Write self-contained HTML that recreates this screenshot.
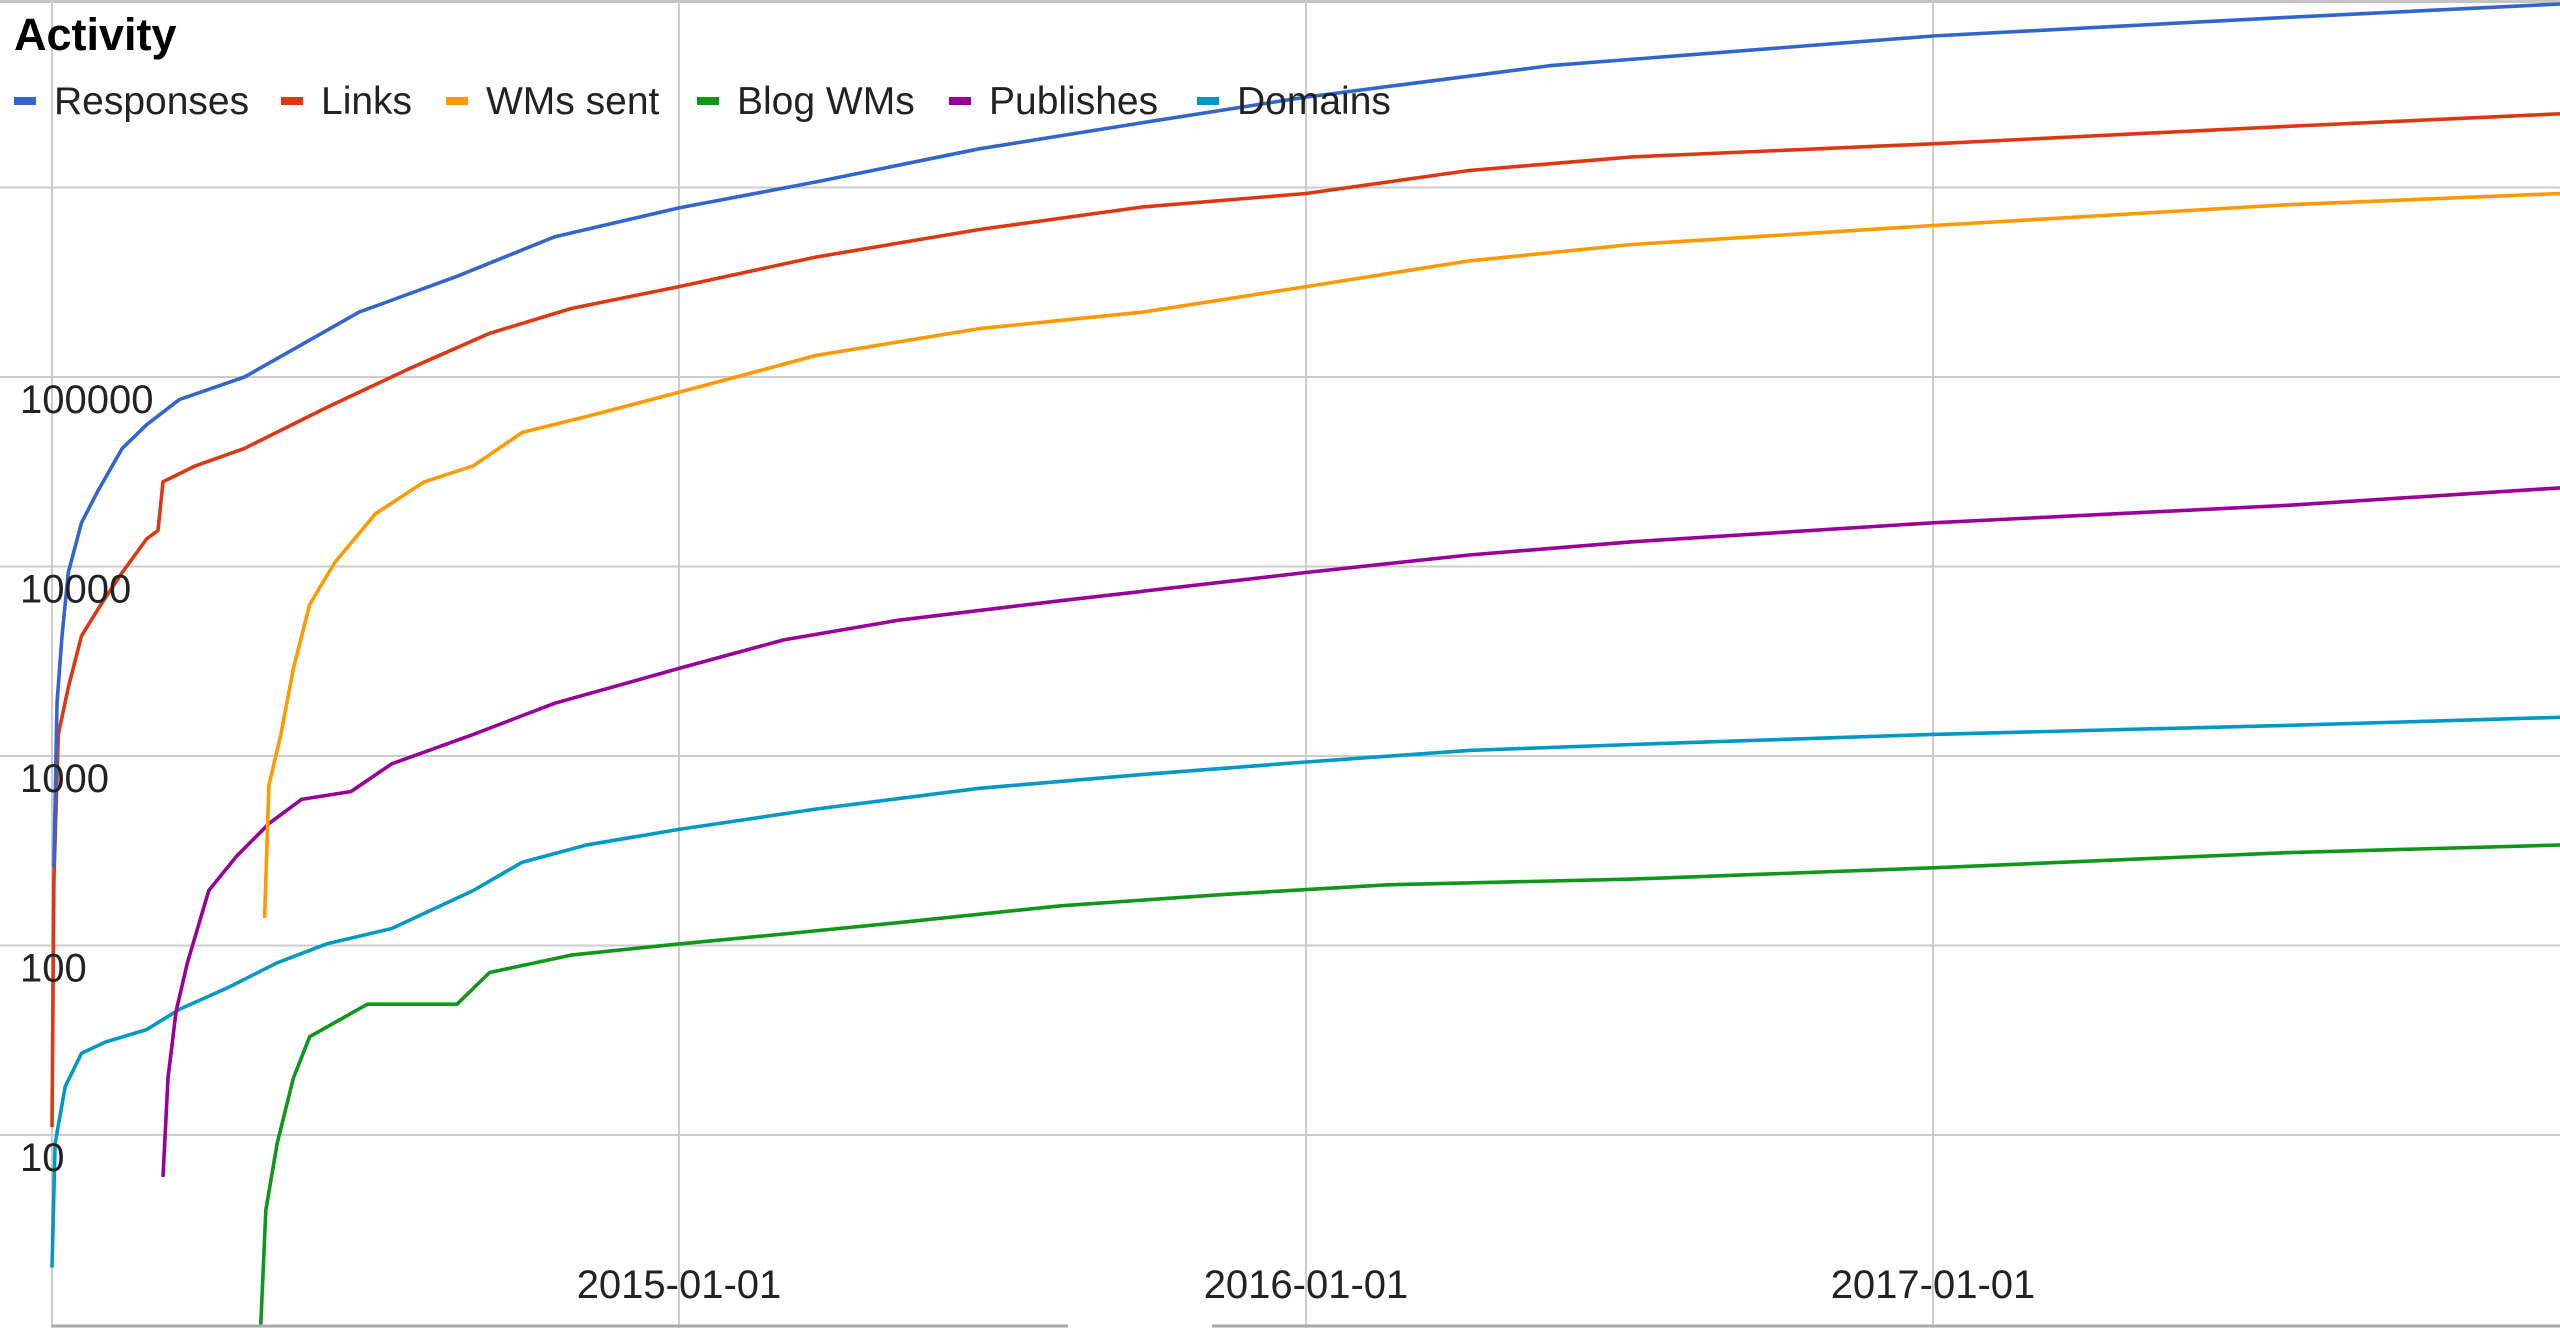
<!DOCTYPE html>
<html><head><meta charset="utf-8"><style>
html,body{margin:0;padding:0;background:#fff;}
svg{display:block;font-family:"Liberation Sans",sans-serif;}
</style></head><body>
<svg id="chart" width="2560" height="1328" viewBox="0 0 2560 1328" xmlns="http://www.w3.org/2000/svg">
<rect x="0" y="0" width="2560" height="1328" fill="#fff"/>
<rect x="0" y="0" width="2560" height="3" fill="#c4c4c4"/>
<g id="grid"></g>
<g id="series" ></g>
<text x="14" y="50" font-size="45" font-weight="bold" fill="#000">Activity</text>
<g id="legend"></g>
<g id="ticks"></g>
<line x1="52" y1="1326" x2="1068" y2="1326" stroke="#aaa" stroke-width="3"/>
<line x1="1212" y1="1326" x2="2560" y2="1326" stroke="#aaa" stroke-width="3"/>
</svg>
<script>
const seriesNames = ["Responses","Links","WMs sent","Blog WMs","Publishes","Domains"];
const seriesColors = ["#3366cc","#dc3912","#ff9900","#109618","#990099","#0099c6"];
const yTickValues = [10,100,1000,10000,100000];
const yTickLabels = ["10","100","1000","10000","100000"];
const xTickYears = [2015,2016,2017];
const xTickLabels = ["2015-01-01","2016-01-01","2017-01-01"];

const responsesYears = [2014.003,2014.008,2014.016,2014.026,2014.047,2014.073,2014.112,2014.151,2014.203,2014.307,2014.385,2014.49,2014.646,2014.802,2015.0,2015.219,2015.479,2015.74,2016.0,2016.39,2017.0,2017.563,2018.0];
const responsesValues = [260,1900,4300,9300,17000,25000,42000,56000,76000,100000,140000,220000,340000,550000,780000,1070000,1600000,2200000,3000000,4400000,6300000,7900000,9300000];

const linksYears = [2014.0,2014.003,2014.01,2014.026,2014.047,2014.078,2014.112,2014.151,2014.169,2014.177,2014.229,2014.307,2014.438,2014.568,2014.698,2014.828,2015.0,2015.219,2015.479,2015.74,2016.0,2016.26,2016.52,2017.0,2017.563,2018.0];
const linksValues = [11,220,1300,2300,4300,6300,9300,14000,15500,28000,34000,42000,69000,110000,170000,230000,300000,430000,600000,790000,930000,1230000,1450000,1700000,2100000,2450000];

const wmsSentYears = [2014.339,2014.346,2014.365,2014.385,2014.411,2014.451,2014.516,2014.594,2014.672,2014.75,2014.854,2015.0,2015.219,2015.479,2015.74,2016.0,2016.26,2016.52,2017.0,2017.563,2018.0];
const wmsSentValues = [140,700,1300,2900,6300,10500,19000,28000,34000,51000,62000,83000,130000,180000,220000,300000,410000,500000,630000,810000,930000];

const blogYears = [2014.333,2014.341,2014.359,2014.385,2014.411,2014.503,2014.646,2014.698,2014.828,2015.0,2015.167,2015.349,2015.609,2015.87,2016.13,2016.52,2017.0,2017.563,2018.0];
const blogValues = [1,4,9,20,33,49,49,72,89,102,115,132,162,186,209,224,257,309,339];

const publishesYears = [2014.177,2014.185,2014.198,2014.216,2014.25,2014.294,2014.346,2014.398,2014.477,2014.542,2014.672,2014.802,2015.0,2015.167,2015.349,2015.609,2016.0,2016.26,2016.52,2017.0,2017.563,2018.0];
const publishesValues = [6,20,45,81,195,295,440,590,650,910,1300,1900,2900,4100,5200,6600,9300,11500,13500,17000,21000,26000];

const domainsYears = [2014.0,2014.005,2014.021,2014.047,2014.086,2014.151,2014.203,2014.281,2014.359,2014.438,2014.542,2014.672,2014.75,2014.854,2015.0,2015.219,2015.479,2015.74,2016.0,2016.26,2016.52,2017.0,2017.563,2018.0];
const domainsValues = [2,9,18,27,31,36,46,60,81,102,123,195,275,340,410,525,675,800,930,1070,1150,1300,1450,1600];

const NS="http://www.w3.org/2000/svg";
function xScale(yr){return 52+(yr-2014)*627;}
function yScale(v){return 1135-(Math.log10(v)-1)*189.5;}
function mk(tag,attrs,parent){const e=document.createElementNS(NS,tag);for(const k in attrs)e.setAttribute(k,attrs[k]);parent.appendChild(e);return e;}

const grid=document.getElementById('grid');
for(let p=0;p<=7;p++){
  const y=yScale(Math.pow(10,p));
  if(y<5||y>1320)continue;
  const l=mk('line',{x1:0,x2:2560,y1:y,y2:y,stroke:'#cccccc','stroke-width':2},grid);
  
  
}
[2014,2015,2016,2017].forEach(yr=>{
  const x=xScale(yr);
  const l=mk('line',{x1:x,x2:x,y1:0,y2:1328,stroke:'#cccccc','stroke-width':2},grid);
  
  
});

const sdata=[[responsesYears,responsesValues],[linksYears,linksValues],[wmsSentYears,wmsSentValues],[blogYears,blogValues],[publishesYears,publishesValues],[domainsYears,domainsValues]];
const sg=document.getElementById('series');
const order=[3,5,4,2,1,0];
order.forEach(i=>{
  const [ys,vs]=sdata[i];
  let d='';
  for(let k=0;k<ys.length;k++){
    let y=yScale(vs[k]); if(y>1326)y=1326;
    d+=(k?'L':'M')+xScale(ys[k]).toFixed(1)+' '+y.toFixed(1);
  }
  const p=mk('path',{d:d,fill:'none',stroke:seriesColors[i],'stroke-width':3.6,'stroke-linejoin':'round'},sg);
  
  
});

const lg=document.getElementById('legend');
const legX=[14,281,446,697,949,1197];
seriesNames.forEach((n,i)=>{
  const g=mk('g',{},lg);
  
  
  mk('rect',{x:legX[i],y:97,width:22,height:8,fill:seriesColors[i]},g);
  mk('text',{x:legX[i]+40,y:114,'font-size':39,fill:'#222'},g).textContent=n;
});

const tk=document.getElementById('ticks');
yTickValues.forEach((v,i)=>{
  const t=mk('text',{x:20,y:yScale(v)+36,'font-size':40,fill:'#222'},tk);
  
  
  t.textContent=yTickLabels[i];
});
xTickYears.forEach((yr,i)=>{
  const t=mk('text',{x:xScale(yr),y:1298,'font-size':40,fill:'#222','text-anchor':'middle'},tk);
  
  
  t.textContent=xTickLabels[i];
});
</script>
</body></html>
